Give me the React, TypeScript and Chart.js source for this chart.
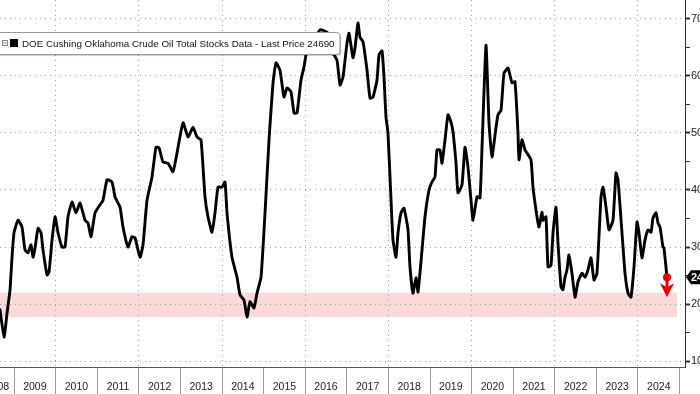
import React, { useEffect, useRef } from 'react';
import { Chart, registerables } from 'chart.js';

Chart.register(...registerables);

// Decimal-year dates
const dates = [
  2008.663, 2008.760, 2008.832, 2008.904, 2008.952, 2009.000, 2009.096, 2009.192, 2009.264, 2009.337,
  2009.409, 2009.457, 2009.505, 2009.577, 2009.649, 2009.697, 2009.793, 2009.841, 2009.913, 2009.986,
  2010.058, 2010.154, 2010.226, 2010.298, 2010.394, 2010.490, 2010.587, 2010.707, 2010.779, 2010.851,
  2010.947, 2011.067, 2011.139, 2011.236, 2011.356, 2011.428, 2011.548, 2011.620, 2011.740, 2011.837,
  2011.909, 2012.029, 2012.101, 2012.197, 2012.317, 2012.413, 2012.486, 2012.582, 2012.702, 2012.822,
  2012.918, 2013.063, 2013.183, 2013.303, 2013.399, 2013.495, 2013.591, 2013.663, 2013.760, 2013.832,
  2013.904, 2014.000, 2014.072, 2014.120, 2014.240, 2014.361, 2014.433, 2014.529, 2014.601, 2014.673,
  2014.769, 2014.841, 2014.938, 2015.034, 2015.130, 2015.226, 2015.298, 2015.394, 2015.490, 2015.563,
  2015.659, 2015.731, 2015.803, 2015.899, 2015.971, 2016.043, 2016.115, 2016.356, 2016.548, 2016.668,
  2016.764, 2016.837, 2016.909, 2017.005, 2017.053, 2017.149, 2017.197, 2017.269, 2017.317, 2017.389,
  2017.486, 2017.558, 2017.630, 2017.726, 2017.774, 2017.846, 2017.894, 2017.942, 2017.990, 2018.063,
  2018.111, 2018.183, 2018.231, 2018.303, 2018.375, 2018.471, 2018.519, 2018.591, 2018.663, 2018.712,
  2018.808, 2018.880, 2018.976, 2019.048, 2019.120, 2019.168, 2019.240, 2019.288, 2019.361, 2019.433,
  2019.505, 2019.553, 2019.625, 2019.673, 2019.769, 2019.841, 2019.913, 2019.986, 2020.034, 2020.130,
  2020.202, 2020.250, 2020.346, 2020.418, 2020.490, 2020.587, 2020.635, 2020.707, 2020.779, 2020.875,
  2020.971, 2021.043, 2021.115, 2021.139, 2021.212, 2021.284, 2021.332, 2021.428, 2021.476, 2021.572,
  2021.620, 2021.692, 2021.716, 2021.788, 2021.837, 2021.909, 2021.957, 2022.029, 2022.077, 2022.149,
  2022.197, 2022.245, 2022.293, 2022.341, 2022.413, 2022.486, 2022.558, 2022.654, 2022.726, 2022.798,
  2022.870, 2022.942, 2023.014, 2023.111, 2023.159, 2023.231, 2023.303, 2023.399, 2023.471, 2023.519,
  2023.615, 2023.688, 2023.760, 2023.832, 2023.904, 2023.976, 2024.024, 2024.096, 2024.168, 2024.240,
  2024.313, 2024.361, 2024.433, 2024.481, 2024.529, 2024.601, 2024.625, 2024.697,
];

// Cushing crude stocks, millions of barrels
const stocks = [
  19.0, 14.2, 18.4, 22.5, 28.2, 32.5, 34.7, 33.5, 29.5, 29.0,
  30.4, 28.2, 29.8, 33.3, 32.5, 29.5, 25.1, 25.6, 31.2, 35.3,
  32.5, 30.0, 30.0, 35.3, 37.9, 36.0, 37.7, 34.7, 34.2, 31.8,
  36.0, 37.4, 38.2, 41.8, 41.4, 38.8, 37.0, 33.5, 30.0, 31.8,
  31.6, 28.2, 30.4, 38.2, 42.3, 47.5, 47.4, 44.9, 44.7, 43.2,
  46.5, 51.8, 49.3, 51.0, 49.3, 48.8, 38.8, 35.3, 32.6, 36.0,
  40.5, 40.5, 41.4, 36.0, 28.2, 24.7, 21.6, 20.7, 17.7, 20.4,
  19.3, 21.9, 24.7, 36.0, 48.8, 58.8, 62.3, 61.0, 56.3, 57.9,
  57.2, 53.5, 53.5, 59.3, 61.6, 64.6, 65.1, 68.1, 67.5, 64.0,
  62.8, 58.4, 59.8, 65.8, 67.5, 63.2, 64.9, 69.3, 66.8, 66.0,
  61.0, 56.1, 56.3, 59.3, 63.7, 64.4, 59.8, 52.8, 50.0, 38.2,
  31.2, 28.2, 32.5, 36.0, 36.8, 33.0, 26.5, 21.9, 24.6, 22.1,
  29.5, 35.3, 40.0, 41.4, 42.3, 47.0, 47.0, 44.7, 48.8, 53.2,
  51.9, 50.2, 44.7, 39.5, 40.9, 47.5, 44.0, 38.2, 34.7, 38.8,
  38.6, 47.4, 65.4, 51.8, 45.8, 51.0, 53.2, 54.0, 60.5, 61.4,
  58.8, 59.0, 50.0, 45.3, 48.8, 47.0, 46.5, 45.3, 40.5, 35.3,
  33.5, 36.1, 34.7, 35.3, 26.5, 26.8, 32.5, 37.0, 30.7, 23.0,
  22.5, 24.7, 26.0, 28.6, 25.4, 21.2, 23.9, 25.4, 24.7, 26.0,
  28.1, 24.2, 25.4, 38.8, 40.5, 37.0, 33.0, 34.7, 43.0, 41.8,
  32.5, 25.4, 21.9, 21.2, 26.5, 34.4, 32.5, 28.1, 31.2, 33.0,
  32.6, 35.1, 36.0, 34.2, 33.5, 30.0, 29.8, 24.69,
];

const yearStarts = [2009, 2010, 2011, 2012, 2013, 2014, 2015, 2016, 2017, 2018, 2019, 2020, 2021, 2022, 2023, 2024, 2025];
const yearLabelPos = [2008.6, 2009.5, 2010.5, 2011.5, 2012.5, 2013.5, 2014.5, 2015.5, 2016.5, 2017.5, 2018.5, 2019.5, 2020.5, 2021.5, 2022.5, 2023.5, 2024.5];
const yearLabels = ['2008', '2009', '2010', '2011', '2012', '2013', '2014', '2015', '2016', '2017', '2018', '2019', '2020', '2021', '2022', '2023', '2024'];
const yTickValues = [10, 15, 20, 25, 30, 35, 40, 45, 50, 55, 60, 65, 70];

const xMin = 2008.663;
const xMax = 2025.13;
const yMin = 8.95;
const yMax = 73.33;

const bandLow = 17.7;
const bandHigh = 22.0;
const bandEnd = 2024.94;

const lastPrice = '24690';
const legendText = 'DOE Cushing Oklahoma Crude Oil Total Stocks Data - Last Price 24690';

const FONT = '"Liberation Sans", Arial, sans-serif';

const overlayPlugin = {
  id: 'overlay',
  beforeDraw(chart: any) {
    const { ctx, scales } = chart;
    const x = scales.x;
    const y = scales.y;
    const x0 = x.getPixelForValue(xMin);
    const x1 = x.getPixelForValue(bandEnd);
    const yt = y.getPixelForValue(bandHigh);
    const yb = y.getPixelForValue(bandLow);
    ctx.save();
    ctx.fillStyle = '#fcd9d9';
    ctx.fillRect(x0, yt, x1 - x0, yb - yt);
    ctx.restore();
  },
  afterDatasetsDraw(chart: any) {
    const { ctx } = chart;
    const meta = chart.getDatasetMeta(0);
    const last = meta.data[meta.data.length - 1];
    const px = last.x;
    const py = last.y;
    ctx.save();
    ctx.fillStyle = '#e8000b';
    ctx.strokeStyle = '#e8000b';
    ctx.lineWidth = 3;
    ctx.beginPath();
    ctx.moveTo(px, py);
    ctx.lineTo(px, py + 10);
    ctx.stroke();
    ctx.beginPath();
    ctx.moveTo(px - 7, py + 6);
    ctx.lineTo(px, py + 10);
    ctx.lineTo(px + 7, py + 6);
    ctx.lineTo(px, py + 20);
    ctx.closePath();
    ctx.fill();
    ctx.beginPath();
    ctx.arc(px, py, 4, 0, Math.PI * 2);
    ctx.fill();
    ctx.restore();
  },
  afterDraw(chart: any) {
    const { ctx, scales } = chart;
    const y = scales.y;
    const ty = y.getPixelForValue(stocks[stocks.length - 1]);
    const ax = y.left + 1;
    ctx.save();
    // last price tag
    ctx.fillStyle = '#000';
    ctx.beginPath();
    ctx.moveTo(ax, ty);
    ctx.lineTo(ax + 5, ty - 7);
    ctx.lineTo(ax + 60, ty - 7);
    ctx.lineTo(ax + 60, ty + 7);
    ctx.lineTo(ax + 5, ty + 7);
    ctx.closePath();
    ctx.fill();
    ctx.fillStyle = '#fff';
    ctx.font = `bold 11px ${FONT}`;
    ctx.textBaseline = 'middle';
    ctx.textAlign = 'left';
    ctx.fillText(lastPrice, ax + 5, ty + 0.5);

    // legend box
    const bx = -4, by = 32.5, bw = 344, bh = 22;
    ctx.shadowColor = 'rgba(0,0,0,0.35)';
    ctx.shadowOffsetX = 1;
    ctx.shadowOffsetY = 1;
    ctx.shadowBlur = 1;
    ctx.fillStyle = '#fff';
    ctx.beginPath();
    ctx.roundRect(bx, by, bw, bh, 3);
    ctx.fill();
    ctx.shadowColor = 'transparent';
    ctx.strokeStyle = '#9a9a9a';
    ctx.lineWidth = 1;
    ctx.stroke();
    // small collapse icon
    ctx.strokeStyle = '#888';
    ctx.strokeRect(2.5, 40.5, 5, 5);
    ctx.beginPath();
    ctx.moveTo(3.5, 43);
    ctx.lineTo(6.5, 43);
    ctx.stroke();
    // black square
    ctx.fillStyle = '#000';
    ctx.fillRect(10, 39, 8, 8);
    // text fitted to width
    let size = 11;
    ctx.font = `${size}px ${FONT}`;
    const w = ctx.measureText(legendText).width;
    size = size * 313 / w;
    ctx.font = `${size}px ${FONT}`;
    ctx.fillStyle = '#111';
    ctx.textBaseline = 'middle';
    ctx.fillText(legendText, 22, 44);
    ctx.restore();
  },
};

export default function App() {
  const ref = useRef<HTMLCanvasElement>(null);
  useEffect(() => {
    document.body.style.margin = '0';
    const canvas = ref.current!;
    const xTickValues = [...yearStarts, ...yearLabelPos].sort((a, b) => a - b);
    const chart = new Chart(canvas, {
      type: 'line',
      data: {
        datasets: [
          {
            data: dates.map((d, i) => ({ x: d, y: stocks[i] })),
            borderColor: '#000',
            borderWidth: 2.9,
            pointRadius: 0,
            tension: 0.15,
            borderJoinStyle: 'round',
            borderCapStyle: 'round',
          },
        ],
      },
      options: {
        animation: false,
        responsive: false,
        events: [],
        layout: { padding: 0 },
        plugins: { legend: { display: false }, tooltip: { enabled: false } },
        scales: {
          x: {
            type: 'linear',
            position: 'bottom',
            min: xMin,
            max: xMax,
            afterBuildTicks: (s: any) => {
              s.ticks = xTickValues.map((v) => ({ value: v }));
            },
            afterFit: (s: any) => {
              s.height = 27;
              s.paddingLeft = 0;
              s.paddingRight = 0;
            },
            grid: {
              color: (c: any) => {
                const v = c.tick ? c.tick.value : 0;
                return Number.isInteger(v) && v % 2 === 0 ? '#a0a0a0' : 'rgba(0,0,0,0)';
              },
              lineWidth: 1,
              tickLength: 27,
              tickWidth: 1,
              tickColor: (c: any) => {
                const v = c.tick ? c.tick.value : 0;
                return Number.isInteger(v) ? '#9a9a9a' : 'rgba(0,0,0,0)';
              },
              tickBorderDash: [],
            },
            border: { display: true, color: '#555', width: 1, dash: [1, 4] },
            ticks: {
              autoSkip: false,
              maxRotation: 0,
              minRotation: 0,
              padding: -13,
              color: '#222',
              font: { family: FONT, size: 10.5 },
              callback: (v: any) => {
                const i = yearLabelPos.indexOf(Number(v));
                return i >= 0 ? yearLabels[i] : '';
              },
            },
          },
          y: {
            type: 'linear',
            position: 'right',
            min: yMin,
            max: yMax,
            afterBuildTicks: (s: any) => {
              s.ticks = yTickValues.map((v) => ({ value: v }));
            },
            afterFit: (s: any) => {
              s.width = 15;
              s.paddingTop = 0;
              s.paddingBottom = 0;
            },
            grid: {
              color: (c: any) => (c.tick && c.tick.value % 10 === 0 ? '#a0a0a0' : 'rgba(0,0,0,0)'),
              lineWidth: 1,
              tickLength: 5,
              tickColor: '#333',
              tickWidth: (c: any) => (c.tick && c.tick.value % 10 === 0 ? 2 : 1),
              tickBorderDash: [],
            },
            border: { display: true, color: '#333', width: 1, dash: [1, 4] },
            ticks: {
              autoSkip: false,
              padding: 1,
              color: '#222',
              font: { family: FONT, size: 11 },
              callback: (v: any) => (Number(v) % 10 === 0 ? String(Number(v) * 1000) : ''),
            },
          },
        },
      },
      plugins: [overlayPlugin],
    } as any);
    return () => chart.destroy();
  }, []);
  return (
    <div style={{ width: 700, height: 394 }}>
      <canvas ref={ref} width={700} height={394} style={{ display: 'block' }} />
    </div>
  );
}
